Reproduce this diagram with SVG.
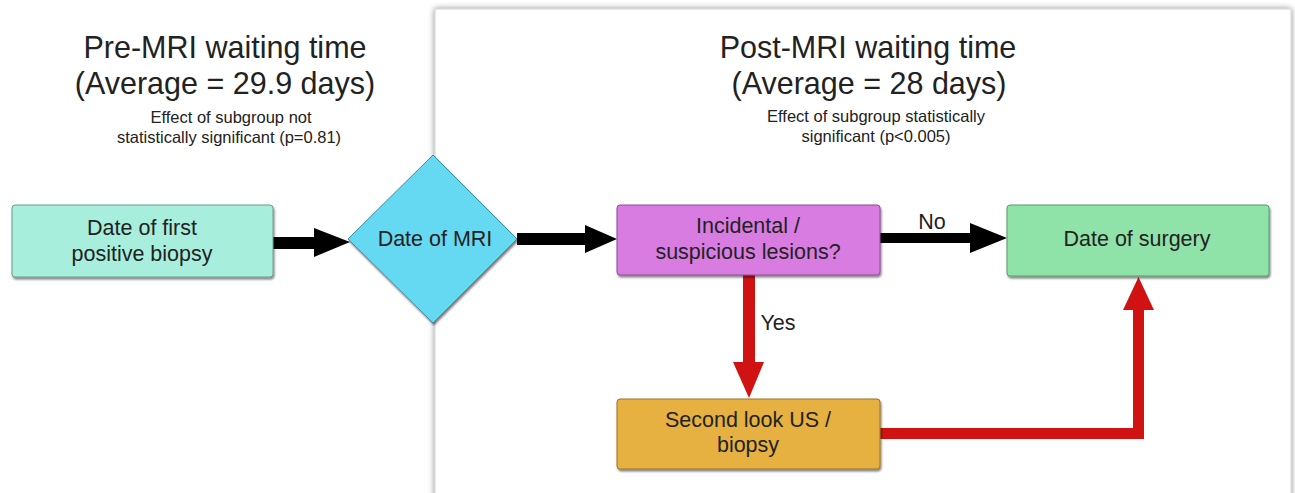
<svg xmlns="http://www.w3.org/2000/svg" width="1295" height="493" viewBox="0 0 1295 493">
<defs>
<filter id="panelShadow" x="-5%" y="-5%" width="110%" height="110%">
<feGaussianBlur in="SourceAlpha" stdDeviation="3"/>
<feOffset dx="0" dy="0" result="b"/>
<feComponentTransfer><feFuncA type="linear" slope="0.45"/></feComponentTransfer>
<feMerge><feMergeNode/><feMergeNode in="SourceGraphic"/></feMerge>
</filter>
<filter id="nodeShadow" x="-5%" y="-5%" width="110%" height="120%">
<feGaussianBlur in="SourceAlpha" stdDeviation="0.8"/>
<feOffset dx="1" dy="1.5"/>
<feComponentTransfer><feFuncA type="linear" slope="0.5"/></feComponentTransfer>
<feMerge><feMergeNode/><feMergeNode in="SourceGraphic"/></feMerge>
</filter>
</defs>
<style>
text{font-family:"Liberation Sans",Arial,sans-serif;fill:#222;text-anchor:middle}
.title{font-size:30.5px}
.sub{font-size:16.5px}
.lbl{font-size:21.5px}
.node{stroke-width:1}
.blk{fill:#000}
.red{fill:#d01212}
</style>
<rect width="1295" height="493" fill="#ffffff"/>
<g id="panel">
<rect x="435" y="9" width="856" height="500" fill="#ffffff" stroke="#d0d0d0" stroke-width="1" filter="url(#panelShadow)"/>
</g>
<g id="titles">
<text class="title" x="225" y="58">Pre-MRI waiting time</text>
<text class="title" x="225" y="94">(Average = 29.9 days)</text>
<text class="sub" x="231" y="123">Effect of subgroup not</text>
<text class="sub" x="229" y="143">statistically significant (p=0.81)</text>
<text class="title" x="868" y="58">Post-MRI waiting time</text>
<text class="title" x="869" y="94">(Average = 28 days)</text>
<text class="sub" x="876" y="122">Effect of subgroup statistically</text>
<text class="sub" x="876" y="142">significant (p&lt;0.005)</text>
</g>
<g id="connectors">
<polygon class="blk" points="273,237 314,237 314,228 350,242 314,257 314,249 273,249"/>
<polygon class="blk" points="517,233 585,233 585,225 617,239 585,253 585,245 517,245"/>
<polygon class="blk" points="880,233 970,233 970,223 1007,238 970,253 970,243 880,243"/>
<text class="lbl" x="932" y="229">No</text>
<polygon class="red" points="743,275 755,275 755,362 764,362 749,398 733,362 743,362"/>
<text class="lbl" x="778" y="330">Yes</text>
<polygon class="red" points="880,428 1133,428 1133,310 1123,310 1138.5,277 1154,310 1144,310 1144,439 880,439"/>
</g>
<g id="node-biopsy">
<rect x="12" y="205" width="261" height="72" rx="3" fill="#a8eedc" stroke="#6a9a8c" class="node" filter="url(#nodeShadow)"/>
<text class="lbl" x="142" y="235">Date of first</text>
<text class="lbl" x="142" y="261">positive biopsy</text>
</g>
<g id="node-mri">
<polygon points="433,155 517,239 433,323 348,239" fill="#66d9f2" stroke="#3c8aa0" class="node" filter="url(#nodeShadow)"/>
<text class="lbl" x="435" y="246">Date of MRI</text>
</g>
<g id="node-lesions">
<rect x="617" y="205" width="263" height="70" rx="3" fill="#d97ce1" stroke="#8c4c93" class="node" filter="url(#nodeShadow)"/>
<text class="lbl" x="748" y="233">Incidental /</text>
<text class="lbl" x="748" y="259">suspicious lesions?</text>
</g>
<g id="node-surgery">
<rect x="1007" y="205" width="262" height="71" rx="3" fill="#8fe3a8" stroke="#5a9a6c" class="node" filter="url(#nodeShadow)"/>
<text class="lbl" x="1137" y="246">Date of surgery</text>
</g>
<g id="node-secondlook">
<rect x="617" y="399" width="263" height="70" rx="3" fill="#e6b13f" stroke="#9a7424" class="node" filter="url(#nodeShadow)"/>
<text class="lbl" x="748" y="427">Second look US /</text>
<text class="lbl" x="748" y="452">biopsy</text>
</g>
</svg>
